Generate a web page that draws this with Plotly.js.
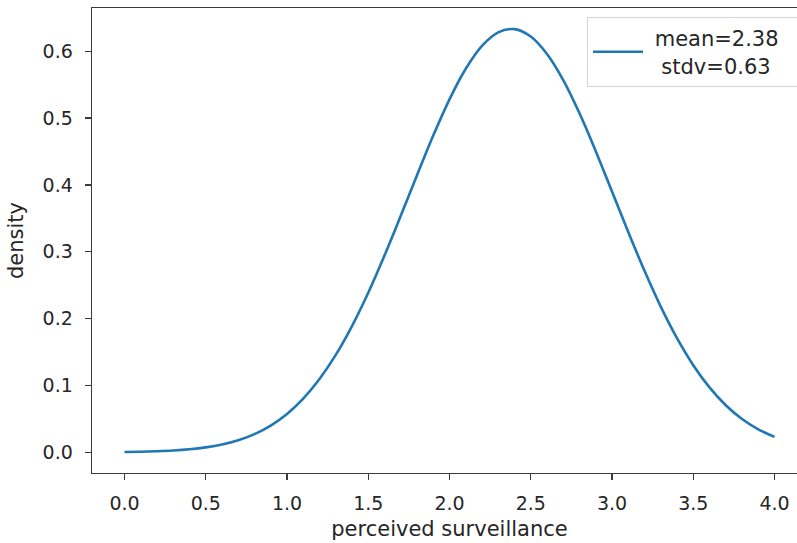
<!DOCTYPE html>
<html>
<head>
<meta charset="utf-8">
<script src="https://cdn.plot.ly/plotly-3.0.1.min.js"></script>
<style>
  html, body { margin: 0; padding: 0; background: #fff; overflow: hidden; }
  #chart { width: 815px; height: 543px; }
</style>
</head>
<body>
<div id="chart"></div>
<script>
// Perceived surveillance scores: density curve sampled every 0.1
const surveillance = [
  0.0, 0.1, 0.2, 0.3, 0.4, 0.5, 0.6, 0.7, 0.8, 0.9,
  1.0, 1.1, 1.2, 1.3, 1.4, 1.5, 1.6, 1.7, 1.8, 1.9,
  2.0, 2.1, 2.2, 2.3, 2.4, 2.5, 2.6, 2.7, 2.8, 2.9,
  3.0, 3.1, 3.2, 3.3, 3.4, 3.5, 3.6, 3.7, 3.8, 3.9, 4.0
];
const density = [
  0.0005, 0.0009, 0.0016, 0.0027, 0.0045, 0.0074, 0.0117, 0.0181, 0.0273, 0.0401,
  0.0575, 0.0804, 0.1096, 0.1457, 0.1889, 0.2387, 0.2943, 0.3537, 0.4145, 0.4738,
  0.5280, 0.5737, 0.6080, 0.6282, 0.6330, 0.6219, 0.5958, 0.5567, 0.5071, 0.4505,
  0.3902, 0.3296, 0.2715, 0.2180, 0.1708, 0.1304, 0.0971, 0.0705, 0.0499, 0.0345, 0.0232
];
// Two-line legend entry, second line nudged so both read centred
const seriesLabel = '\u00a0mean=2.38\u00a0\u00a0<br>\u00a0\u00a0stdv=0.63';
const xTickVals = [0.0, 0.5, 1.0, 1.5, 2.0, 2.5, 3.0, 3.5, 4.0];
const yTickVals = [0.0, 0.1, 0.2, 0.3, 0.4, 0.5, 0.6];

const textColor = '#262626';
const spineColor = '#3a3a3a';
const fontFamily = 'DejaVu Sans, sans-serif';
const tickSize = 19;
const labelSize = 21;

const trace = {
  x: surveillance,
  y: density,
  type: 'scatter',
  mode: 'lines',
  name: seriesLabel,
  line: { color: '#1f77b4', width: 2.6, shape: 'spline', smoothing: 1 },
  showlegend: true
};

const axisCommon = {
  showgrid: false,
  zeroline: false,
  showline: true,
  mirror: true,
  linecolor: spineColor,
  linewidth: 1.4,
  ticks: 'outside',
  ticklen: 6,
  tickwidth: 1.3,
  tickcolor: spineColor,
  tickfont: { family: fontFamily, size: tickSize, color: textColor },
  tickformat: '.1f'
};

const layout = {
  width: 815,
  height: 543,
  margin: { l: 92, r: 8, t: 8, b: 70, autoexpand: false },
  paper_bgcolor: '#ffffff',
  plot_bgcolor: '#ffffff',
  font: { family: fontFamily, size: tickSize, color: textColor },
  showlegend: true,
  xaxis: Object.assign({}, axisCommon, {
    range: [-0.2, 4.2],
    tickmode: 'array',
    tickvals: xTickVals,
    ticklabelstandoff: 7,
    automargin: false,
    title: { text: 'perceived surveillance', font: { family: fontFamily, size: labelSize, color: textColor }, standoff: 8 }
  }),
  yaxis: Object.assign({}, axisCommon, {
    range: [-0.0309, 0.6646],
    tickmode: 'array',
    tickvals: yTickVals,
    ticklabelstandoff: 8,
    automargin: false,
    title: { text: 'density', font: { family: fontFamily, size: labelSize, color: textColor }, standoff: 13 }
  }),
  legend: {
    x: (587 - 92) / 715,
    y: 1 - 9 / 465,
    xanchor: 'left',
    yanchor: 'top',
    bgcolor: 'rgba(255,255,255,0.8)',
    bordercolor: '#d4d4d4',
    borderwidth: 1,
    font: { family: fontFamily, size: labelSize, color: textColor },
    itemwidth: 50
  }
};

Plotly.newPlot('chart', [trace], layout, { displayModeBar: false, staticPlot: true });
</script>
</body>
</html>
